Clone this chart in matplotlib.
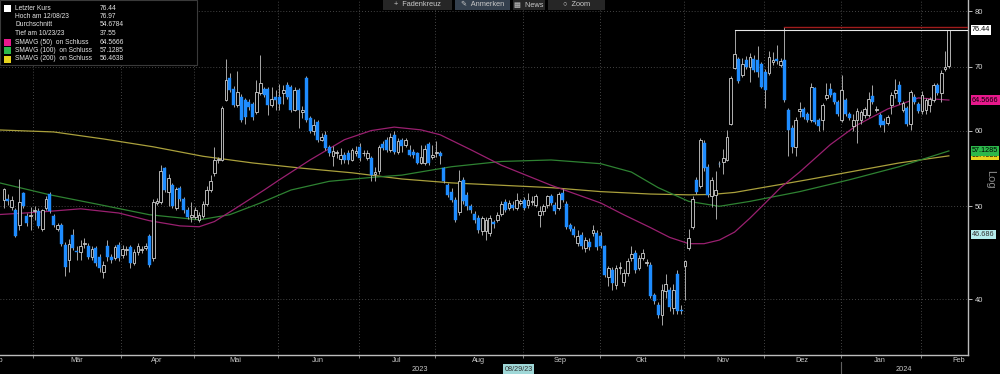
import numpy as np
import pandas as pd
import matplotlib
matplotlib.use('Agg')
import matplotlib.pyplot as plt
from matplotlib.patches import Rectangle
from matplotlib.lines import Line2D
from matplotlib.transforms import blended_transform_factory

plt.rcParams['font.family'] = ['Liberation Sans', 'DejaVu Sans']

opens = [50.8, 50.9, 49.9, 49.6, 47.8, 51.6, 48.8, 48.9, 49.4, 49.4,
         47.3, 49.8, 51.5, 48.9, 47.3, 47.8, 45.6, 43.9, 46.7, 44.9,
         44.8, 45.7, 45.4, 44.3, 45.2, 44.3, 42.7, 45.4, 44.3, 44.2,
         45.6, 44.5, 45.0, 45.3, 43.6, 44.8, 45.0, 45.2, 46.5, 44.1,
         50.4, 50.5, 54.8, 51.8, 52.6, 49.8, 52.2, 50.9, 49.6, 48.7,
         48.7, 48.4, 48.9, 50.3, 52.0, 54.2, 55.9, 55.9, 64.6, 68.1,
         66.3, 63.8, 65.1, 64.6, 64.3, 64.0, 62.8, 65.7, 66.3, 66.3,
         63.8, 65.1, 65.1, 65.7, 67.0, 66.7, 63.1, 66.2, 62.8, 68.1,
         61.9, 59.9, 61.3, 58.7, 59.4, 57.7, 56.4, 56.9, 56.0, 56.6,
         56.8, 55.9, 56.8, 57.7, 56.8, 56.2, 56.2, 54.1, 54.4, 58.1,
         58.7, 57.3, 59.4, 57.0, 58.7, 58.0, 57.3, 57.0, 56.8, 55.5,
         55.5, 58.1, 56.3, 56.9, 56.8, 54.8, 52.6, 51.8, 50.8, 49.3,
         53.3, 51.4, 50.0, 49.1, 48.6, 47.1, 47.1, 46.9, 48.1, 48.4,
         49.1, 50.5, 49.8, 50.1, 49.8, 50.4, 50.8, 50.1, 50.5, 50.2,
         49.0, 49.4, 50.1, 51.2, 50.2, 49.8, 51.6, 50.3, 47.8, 47.4,
         45.8, 46.7, 45.2, 45.9, 46.9, 46.9, 46.6, 45.4, 42.2, 42.9,
         41.4, 43.1, 41.7, 42.6, 44.2, 44.7, 43.1, 44.2, 43.6, 43.4,
         40.4, 39.4, 38.5, 40.8, 40.9, 39.1, 42.5, 39.0, 43.3, 45.2,
         47.6, 53.3, 52.5, 58.3, 54.9, 51.2, 51.4, 55.4, 55.6, 55.9,
         61.0, 69.7, 71.3, 68.6, 71.1, 69.9, 71.3, 71.1, 70.4, 69.1,
         68.9, 70.8, 71.2, 70.3, 71.1, 63.1, 60.4, 57.7, 62.9, 63.2,
         62.4, 61.6, 66.4, 61.6, 61.6, 64.9, 66.3, 65.6, 64.3, 61.6,
         64.6, 62.4, 60.6, 61.6, 61.6, 62.3, 62.3, 65.2, 63.1, 62.3,
         61.4, 61.1, 63.8, 65.7, 67.0, 63.1, 63.3, 61.0, 65.1, 64.0,
         62.9, 63.1, 63.8, 64.6, 67.0, 65.7, 69.6, 70.1]
highs = [52.3, 51.5, 51.2, 49.8, 53.4, 51.8, 49.2, 49.9, 50.0, 49.8,
         49.7, 51.3, 51.7, 49.1, 48.0, 48.0, 45.9, 46.2, 47.3, 45.4,
         46.1, 46.3, 45.8, 45.4, 45.5, 44.6, 43.8, 46.1, 44.6, 45.6,
         45.9, 45.6, 45.4, 45.6, 45.1, 45.8, 45.5, 45.8, 46.8, 50.9,
         51.0, 55.2, 55.0, 54.1, 52.9, 52.4, 52.5, 51.1, 49.9, 50.5,
         49.9, 49.3, 50.6, 52.5, 53.9, 57.7, 56.3, 63.6, 71.2, 68.9,
         66.8, 69.2, 65.5, 64.9, 64.8, 64.3, 67.8, 72.0, 66.6, 66.6,
         66.7, 66.1, 67.1, 67.0, 67.4, 67.0, 66.7, 66.4, 63.7, 68.4,
         62.2, 61.7, 61.6, 59.7, 59.9, 58.0, 57.8, 57.2, 57.5, 57.0,
         57.3, 57.6, 57.8, 58.2, 57.3, 57.2, 56.5, 54.9, 58.0, 58.5,
         59.1, 59.7, 59.9, 59.0, 59.0, 58.9, 57.9, 57.4, 57.0, 58.0,
         58.0, 58.4, 58.0, 58.5, 57.1, 55.0, 52.9, 52.2, 51.1, 54.6,
         53.6, 51.7, 50.3, 49.4, 49.0, 48.9, 48.7, 49.0, 48.4, 49.3,
         50.6, 50.9, 50.8, 50.6, 51.6, 50.9, 51.1, 51.6, 51.3, 51.5,
         50.0, 50.3, 51.4, 51.5, 50.5, 51.8, 52.1, 50.6, 48.0, 47.7,
         47.2, 47.0, 46.4, 46.3, 47.8, 47.2, 47.0, 45.6, 43.3, 43.2,
         43.4, 43.7, 43.0, 44.2, 45.4, 45.0, 44.5, 45.1, 44.0, 43.7,
         40.6, 39.7, 41.5, 42.5, 41.2, 41.5, 42.9, 39.4, 43.9, 47.3,
         51.2, 53.6, 58.9, 58.6, 55.4, 53.6, 54.5, 55.7, 57.4, 60.1,
         68.4, 76.44, 71.6, 71.5, 71.8, 72.3, 72.0, 73.6, 70.8, 69.5,
         72.6, 72.5, 73.8, 71.5, 76.97, 63.4, 60.8, 62.0, 64.3, 63.5,
         62.8, 67.2, 66.7, 61.9, 64.1, 67.3, 67.3, 65.9, 64.6, 68.6,
         64.9, 62.8, 62.4, 63.3, 63.1, 63.5, 65.9, 67.0, 63.6, 62.6,
         61.8, 62.3, 65.8, 67.9, 67.6, 64.5, 63.6, 66.2, 65.5, 64.3,
         66.0, 64.9, 65.1, 67.3, 67.3, 69.4, 72.6, 76.44]
lows = [49.8, 50.2, 49.6, 46.4, 47.2, 49.8, 47.7, 47.2, 48.4, 47.5,
        47.1, 49.6, 49.2, 47.6, 47.1, 45.5, 42.3, 42.7, 45.0, 43.9,
        43.9, 45.2, 44.0, 43.9, 43.3, 42.7, 42.1, 43.8, 43.6, 43.9,
        43.8, 44.2, 44.5, 43.1, 43.4, 44.5, 44.7, 45.0, 43.2, 43.8,
        50.2, 50.3, 51.8, 50.0, 49.8, 49.6, 50.6, 49.2, 48.5, 48.2,
        48.5, 48.2, 48.6, 50.0, 51.8, 53.8, 55.5, 55.7, 64.4, 65.8,
        63.5, 63.5, 61.3, 61.0, 63.0, 61.5, 62.5, 65.3, 65.0, 62.3,
        63.5, 63.0, 63.1, 64.0, 64.8, 62.8, 62.9, 60.4, 61.9, 61.2,
        59.6, 59.3, 58.4, 58.5, 57.2, 56.4, 55.1, 56.2, 55.4, 55.5,
        55.3, 55.7, 56.5, 55.8, 56.4, 55.9, 53.2, 53.2, 54.1, 57.2,
        57.0, 57.0, 56.7, 56.7, 57.0, 57.7, 56.4, 56.2, 55.3, 55.3,
        55.2, 55.2, 56.0, 56.3, 55.3, 52.9, 51.1, 50.5, 48.1, 49.0,
        50.3, 49.6, 49.2, 48.0, 46.9, 46.7, 46.1, 46.5, 47.5, 48.2,
        48.9, 49.3, 49.6, 49.5, 49.6, 50.1, 49.6, 49.8, 50.1, 49.9,
        47.6, 49.0, 49.8, 50.1, 49.1, 49.6, 50.5, 47.4, 47.1, 46.4,
        45.4, 45.1, 44.8, 45.0, 46.6, 45.0, 45.2, 42.2, 41.3, 40.9,
        41.0, 42.5, 41.3, 42.3, 43.8, 42.6, 42.9, 43.9, 43.3, 40.1,
        39.5, 38.2, 37.55, 40.1, 38.9, 38.6, 38.6, 38.6, 39.9, 45.0,
        47.4, 51.5, 52.3, 54.5, 51.1, 49.9, 48.5, 55.0, 54.1, 55.7,
        60.8, 69.5, 67.3, 68.3, 69.6, 67.4, 69.0, 68.3, 66.4, 63.4,
        68.6, 70.3, 70.5, 70.0, 64.3, 56.5, 56.9, 56.4, 62.0, 61.7,
        61.2, 61.3, 61.0, 59.9, 60.1, 64.6, 65.1, 64.0, 62.1, 61.3,
        62.1, 61.6, 59.9, 58.3, 61.0, 61.8, 62.0, 64.0, 62.7, 60.5,
        59.8, 60.8, 62.4, 64.9, 64.0, 62.8, 60.7, 60.1, 64.0, 62.6,
        62.5, 62.4, 62.7, 64.3, 65.4, 64.3, 69.3, 69.8]
closes = [52.1, 50.6, 50.8, 46.6, 50.5, 50.0, 48.0, 49.0, 49.5, 47.7,
          49.5, 50.9, 49.4, 47.8, 47.8, 45.7, 43.2, 45.7, 45.2, 44.8,
          45.4, 45.8, 44.3, 45.1, 43.6, 43.1, 43.4, 44.3, 43.9, 45.3,
          44.1, 45.1, 45.0, 43.6, 44.8, 45.4, 45.1, 45.4, 43.4, 50.5,
          50.7, 54.4, 52.0, 53.5, 50.0, 52.1, 50.9, 49.5, 48.7, 49.0,
          49.6, 49.0, 50.3, 52.0, 53.1, 55.9, 56.0, 63.4, 67.8, 66.2,
          63.8, 65.9, 61.6, 62.0, 63.5, 62.0, 65.9, 67.3, 65.4, 63.8,
          64.8, 64.6, 64.0, 66.2, 65.1, 63.1, 66.2, 63.1, 63.0, 61.5,
          59.9, 60.8, 58.7, 59.1, 57.5, 56.9, 57.1, 57.0, 56.6, 55.9,
          55.9, 57.3, 57.1, 56.2, 56.8, 56.9, 53.9, 54.3, 57.7, 57.5,
          57.3, 59.1, 57.0, 58.5, 57.8, 58.6, 56.6, 56.6, 55.5, 56.3,
          57.4, 55.5, 56.6, 57.0, 56.4, 53.1, 51.4, 50.8, 48.4, 53.1,
          50.6, 50.0, 49.6, 48.4, 47.2, 48.6, 48.4, 48.6, 47.9, 49.0,
          50.3, 49.6, 50.4, 49.8, 50.8, 50.6, 49.8, 50.8, 50.6, 51.2,
          49.4, 50.0, 51.2, 50.4, 49.4, 51.5, 50.8, 47.6, 47.4, 46.7,
          46.5, 45.4, 46.1, 45.3, 47.2, 45.3, 45.4, 42.4, 43.1, 41.6,
          43.1, 43.2, 42.6, 43.8, 44.6, 42.9, 44.2, 44.7, 43.7, 40.3,
          39.8, 38.5, 40.9, 41.5, 39.2, 40.9, 38.9, 38.9, 43.8, 46.3,
          50.9, 51.8, 58.7, 54.8, 51.4, 53.3, 52.0, 55.3, 56.2, 59.1,
          68.1, 72.1, 67.6, 70.4, 69.9, 71.7, 69.4, 69.1, 66.7, 66.2,
          71.6, 71.1, 71.0, 71.0, 64.6, 60.1, 57.7, 61.6, 63.2, 62.0,
          61.6, 66.7, 61.3, 60.6, 63.8, 65.4, 65.4, 64.3, 62.4, 66.2,
          62.4, 61.9, 61.6, 62.9, 62.7, 63.2, 64.8, 64.3, 63.2, 60.8,
          60.8, 62.0, 65.4, 66.2, 64.3, 64.1, 61.0, 65.9, 64.3, 62.9,
          65.4, 64.6, 64.8, 67.0, 65.7, 68.9, 69.9, 76.44]

sma50_idx = [-2, 9, 20, 30, 38, 46, 51, 55, 60, 68, 72, 80, 89, 96, 102, 109, 114,
             122, 130, 143, 156, 162, 169, 174, 179, 183, 187, 191, 195, 199, 203,
             208, 216, 223, 231, 239, 247]
sma50 = [49.0, 49.3, 49.7, 49.2, 48.3, 47.7, 47.6, 48.2, 49.6, 52.0, 53.3, 55.9,
         58.7, 60.0, 60.5, 60.1, 59.4, 57.3, 55.2, 52.6, 50.4, 49.0, 47.5, 46.4,
         45.7, 45.7, 46.1, 47.0, 48.6, 50.4, 52.3, 54.3, 58.0, 60.8, 63.2, 64.9, 64.57]
sma100_idx = [-2, 12, 25, 38, 51, 59, 67, 75, 85, 96, 104, 117, 130, 143, 156, 164,
              171, 179, 187, 195, 208, 221, 234, 247]
sma100 = [53.0, 51.4, 50.2, 49.0, 48.4, 49.0, 50.4, 52.0, 53.1, 53.6, 53.9, 55.0,
          55.7, 55.9, 55.4, 54.3, 52.3, 50.6, 50.0, 50.6, 51.8, 53.3, 55.0, 57.13]
sma200_idx = [-2, 13, 26, 39, 52, 65, 78, 91, 104, 117, 130, 143, 156, 169, 179,
              185, 191, 197, 203, 210, 221, 234, 247]
sma200 = [60.1, 59.8, 58.8, 57.7, 56.4, 55.5, 54.8, 54.2, 53.4, 52.9, 52.6, 52.3,
          51.8, 51.5, 51.4, 51.45, 51.7, 52.2, 52.7, 53.3, 54.3, 55.5, 56.46]

month_names = ['Feb', 'Mär', 'Apr', 'Mai', 'Jun', 'Jul', 'Aug', 'Sep', 'Okt', 'Nov',
               'Dez', 'Jan', 'Feb']
legend_labels = ['Letzter Kurs', 'Hoch am 12/08/23', 'Durchschnitt', 'Tief am 10/23/23',
                 'SMAVG (50)  on Schluss', 'SMAVG (100)  on Schluss', 'SMAVG (200)  on Schluss']
legend_values = ['76.44', '76.97', '54.6784', '37.55', '64.5666', '57.1285', '56.4638']
price_ticks = [40, 50, 60, 70, 80]
cursor_price = 46.686
cursor_date = '2023-08-29'

# Farben
col_up = '#d0d0d0'
col_down = '#1e8cff'
col_wick = '#a8a8a8'
col_50, col_100, col_200 = '#9a2070', '#2e8232', '#aaa03c'
box_50, box_100, box_200 = '#e8188c', '#2cb84a', '#e6d41e'

# Handelskalender (US) fuer Monatsgrenzen
holidays = ['2023-02-20', '2023-04-07', '2023-05-29', '2023-06-19', '2023-07-04',
            '2023-09-04', '2023-11-23', '2023-12-25', '2024-01-01', '2024-01-15',
            '2024-02-19']
days = pd.bdate_range('2023-02-01', '2024-02-29', freq='C', holidays=holidays)
offset = days.get_loc(pd.Timestamp('2023-02-16'))
day_idx = np.arange(len(days)) - offset
months = pd.Series(day_idx, index=days).groupby([days.year, days.month])
month_first = months.min().values
month_last = months.max().values
month_mid = (month_first + month_last) / 2.0
bounds = month_first[1:] - 0.3

o = np.array(opens)
h = np.array(highs)
l = np.array(lows)
c = np.array(closes)
x = np.arange(len(c))
up = c >= o

fig = plt.figure(figsize=(10, 3.74), dpi=100, facecolor='black')
ax = fig.add_axes([0, 19 / 374, 0.968, 355 / 374], facecolor='black')
ax.set_yscale('log')
ax.set_xlim(-1.05, 252.0)
ax.set_ylim(34.96, 82.15)

# Gitter
for b in bounds:
    ax.axvline(b, color='#5a5a5a', lw=0.6, ls=(0, (1, 2.5)), zorder=0)
for p in price_ticks:
    ax.axhline(p, color='#5a5a5a', lw=0.6, ls=(0, (1, 2.5)), zorder=0)

# gleitende Durchschnitte
ax.plot(sma200_idx, sma200, color=col_200, lw=0.9, zorder=1)
ax.plot(sma100_idx, sma100, color=col_100, lw=0.9, zorder=1)
ax.plot(sma50_idx, sma50, color=col_50, lw=0.9, zorder=1)

# Kerzen
ax.vlines(x, l, h, color=col_wick, lw=0.7, zorder=2)
bottom = np.minimum(o, c)
height = np.maximum(np.abs(c - o), bottom * 0.002)
ax.bar(x[up], height[up], bottom=bottom[up], width=0.72, facecolor='black',
       edgecolor=col_up, linewidth=0.6, zorder=3)
ax.bar(x[~up], height[~up], bottom=bottom[~up], width=0.78, facecolor=col_down,
       edgecolor=col_down, linewidth=0.3, zorder=3)

# Hoch- und Kurslinie
i_hi = int(np.argmax(h))
ax.plot([i_hi, 253], [h[i_hi], h[i_hi]], color='#a01c1c', lw=1.0, zorder=4)
i_last = int(np.argmax(h >= c[-1]))
ax.plot([i_last, 253], [c[-1], c[-1]], color='#e8e8e8', lw=0.8, zorder=4)

# Achsen
for side in ['top', 'left']:
    ax.spines[side].set_visible(False)
for side in ['right', 'bottom']:
    ax.spines[side].set_color('#bcbcbc')
    ax.spines[side].set_linewidth(1.0)
ax.yaxis.tick_right()
ax.yaxis.set_major_locator(matplotlib.ticker.FixedLocator(price_ticks))
ax.yaxis.set_major_formatter(matplotlib.ticker.FixedFormatter([str(p) for p in price_ticks]))
ax.yaxis.set_minor_locator(matplotlib.ticker.NullLocator())
ax.tick_params(axis='y', colors='#d8d8d8', labelsize=5.5, length=3, width=0.6, pad=2)
ax.set_xticks(bounds)
ax.set_xticklabels([])
ax.tick_params(axis='x', colors='#9a9a9a', length=2, width=0.6)

tr_x = blended_transform_factory(ax.transData, ax.transAxes)
for m, name in zip(month_mid, month_names):
    ax.text(m, -0.015, name, transform=tr_x, ha='center', va='center', fontsize=5.3,
            color='#c8c8c8', clip_on=False)
jan = bounds[10]
ax.text((ax.get_xlim()[0] + jan) / 2, -0.04, '2023', transform=tr_x, ha='center',
        va='center', fontsize=5.3, color='#c8c8c8', clip_on=False)
ax.text((ax.get_xlim()[1] + jan) / 2, -0.04, '2024', transform=tr_x, ha='center',
        va='center', fontsize=5.3, color='#c8c8c8', clip_on=False)
ax.add_line(Line2D([jan, jan], [-0.02, -0.06], transform=tr_x, color='#606060',
                   lw=0.8, clip_on=False))

# Werte-Schilder rechts
tr_y = blended_transform_factory(ax.transAxes, ax.transData)
def tag(val, txt, bg, fg='black'):
    ax.text(1.004, val, txt, transform=tr_y, ha='left', va='center', fontsize=5.2,
            color=fg, clip_on=False, zorder=6,
            bbox=dict(boxstyle='square,pad=0.15', fc=bg, ec='none'))

tag(sma200[-1], legend_values[6], box_200)
tag(sma100[-1], legend_values[5], box_100)
tag(sma50[-1], legend_values[4], box_50)
tag(c[-1], legend_values[0], 'white')
tag(cursor_price, '46.686', '#b4ecec', '#333333')
ax.text(1.018, 53.3, 'Log', transform=tr_y, rotation=270, ha='left', va='center',
        fontsize=8, color='#8c8c8c', clip_on=False)

# Datum des Fadenkreuzes
cur_i = day_idx[days.get_loc(pd.Timestamp(cursor_date))]
ax.text(cur_i + 1.5, -0.04, '08/29/23', transform=tr_x, ha='center', va='center',
        fontsize=5.2, color='#333333', clip_on=False,
        bbox=dict(boxstyle='square,pad=0.2', fc='#9fd8d8', ec='none'))

# Legende oben links
fx = lambda px: px / 1000.0
fy = lambda py: 1 - py / 374.0
fig.patches.append(Rectangle((0, fy(65)), fx(197), 65 / 374.0, transform=fig.transFigure,
                             fc='black', ec='#3a3a3a', lw=0.8, zorder=5))
row_y = [8.3, 16.7, 25, 33.3, 42, 50.5, 59]
sq_cols = ['white', None, None, None, box_50, box_100, box_200]
for ry, lab, val, sc in zip(row_y, legend_labels, legend_values, sq_cols):
    fig.text(fx(15), fy(ry), lab, fontsize=4.8, color='#e6e6e6', va='center', zorder=6)
    fig.text(fx(100), fy(ry), val, fontsize=4.8, color='#e6e6e6', va='center', zorder=6)
    if sc is not None:
        fig.patches.append(Rectangle((fx(4), fy(ry + 3.5)), fx(7), 7 / 374.0,
                                     transform=fig.transFigure, fc=sc, ec='none', zorder=6))
fig.text(fx(7.5), fy(row_y[1]), '⊤', fontsize=6, color='#a0a0a0', ha='center', va='center')
fig.text(fx(7.5), fy(row_y[2]), '-+-', fontsize=5, color='#a0a0a0', ha='center', va='center')
fig.text(fx(7.5), fy(row_y[3]), '⊥', fontsize=6, color='#a0a0a0', ha='center', va='center')

# Werkzeugleiste oben
buttons = [(383, 452, '+  Fadenkreuz', '#262626'), (455, 510, '✎  Anmerken', '#34404e'),
           (513, 545, '▦  News', '#262626'), (548, 605, '○  Zoom', '#262626')]
for x0, x1, txt, bg in buttons:
    fig.patches.append(Rectangle((fx(x0), fy(10)), fx(x1 - x0), 10 / 374.0,
                                 transform=fig.transFigure, fc=bg, ec='none', zorder=5))
    fig.text(fx((x0 + x1) / 2), fy(5), txt, fontsize=5.3, color='#c8c8c8',
             ha='center', va='center', zorder=6)

fig.savefig('out.png', dpi=100, facecolor='black')
